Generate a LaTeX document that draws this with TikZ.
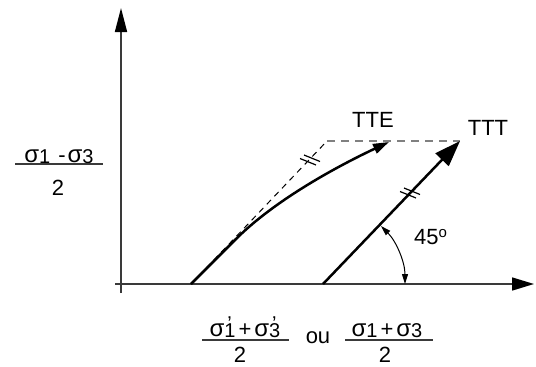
\documentclass[tikz,border=0pt]{standalone}
\usepackage{fontspec}
\setmainfont{Liberation Sans}
\usetikzlibrary{arrows.meta}
\newcommand\sgm{{\fontsize{24}{24}\selectfont σ}}
\newcommand\lsub[1]{\raisebox{-1.5pt}{\fontsize{20}{20}\selectfont #1}}
\newcommand\psub[1]{\raisebox{-1.5pt}{\fontsize{20}{20}\selectfont\makebox[0pt][l]{\kern3pt\smash{\raisebox{7pt}{'}}}#1}}
\definecolor{axisgray}{HTML}{3A3A3A}
\definecolor{dashgray}{HTML}{808080}
\tikzset{
  lbl/.style={font=\fontsize{22}{26}\selectfont, inner sep=0pt, anchor=base},
  axisline/.style={line width=1.6pt, draw=axisgray},
  fracline/.style={line width=1.5pt, draw=axisgray},
  thickarrow/.style={line width=2.5pt},
  dtick/.pic={
    \draw[line width=1.2pt] (-6,-5) -- (10,1.5);
    \draw[line width=1.2pt] (-10,-1.5) -- (6,5);
  }
}
\begin{document}
\begin{tikzpicture}[x=1pt,y=-1pt]
\useasboundingbox (0,0) rectangle (536,367);
% coordinates
\coordinate (xstart) at (115,284);
\coordinate (xend) at (534,284);
\coordinate (ybot) at (121,293);
\coordinate (ytop) at (121,8);
\coordinate (A) at (191,284);
\coordinate (A1) at (236,239);
\coordinate (Atip) at (389,142);
\coordinate (B) at (323,284);
\coordinate (Btip) at (460,141);
\coordinate (C) at (327,141);
% axes
\draw[axisline, -{Triangle[length=24pt,width=12pt,color=black,fill=black]}] (ybot) -- (ytop);
\draw[axisline, -{Triangle[length=22pt,width=13pt,color=black,fill=black]}] (xstart) -- (xend);
% dashed construction lines
\draw[line width=1pt, dash pattern=on 6pt off 5pt] (A) -- (C);
\draw[line width=1.6pt, draw=dashgray, dash pattern=on 8pt off 6pt] (C) -- (Btip);
% TTE curve
\draw[thickarrow, -{Triangle[length=16pt,width=10pt]}] (A) -- (A1) .. controls (276,199) and (340,165) .. (Atip);
% TTT arrow
\draw[thickarrow, -{Triangle[length=26pt,width=18pt]}] (B) -- (Btip);
% double ticks
\pic at (310,160) {dtick};
\pic at (410,193) {dtick};
% angle arc
\draw[line width=1pt, {Triangle[length=10pt,width=6pt]}-{Triangle[length=10pt,width=6pt]}] ([shift={(0:82)}]B) arc[start angle=0, end angle=-45, radius=82];
% labels
\node[lbl] (tte) at (373,127) {TTE};
\node[lbl] (ttt) at (488,135) {TTT};
\node[lbl, anchor=base west] (ang) at (414,244) {45\raisebox{7pt}{\fontsize{15}{15}\selectfont o}};
% left fraction
\node[lbl] (n1) at (59,162) {\sgm\lsub{1}\hspace{8pt}-\hspace{2pt}\sgm\lsub{3}};
\coordinate (f1a) at (15,164);
\coordinate (f1b) at (103,164);
\draw[fracline] (f1a) -- (f1b);
\node[lbl] (d1) at (58,195) {2};
% bottom left fraction
\node[lbl] (n2) at (245,336) {\sgm\psub{1}\hspace{3pt}+\hspace{3pt}\sgm\psub{3}};
\coordinate (f2a) at (202,340);
\coordinate (f2b) at (289,340);
\draw[fracline] (f2a) -- (f2b);
\node[lbl] (d2) at (240,362) {2};
% ou
\node[lbl] (ou) at (318,343) {ou};
% bottom right fraction
\node[lbl] (n3) at (387,336) {\sgm\lsub{1}\hspace{3pt}+\hspace{3pt}\sgm\lsub{3}};
\coordinate (f3a) at (345,340);
\coordinate (f3b) at (433,340);
\draw[fracline] (f3a) -- (f3b);
\node[lbl] (d3) at (385,362) {2};
\end{tikzpicture}
\end{document}
